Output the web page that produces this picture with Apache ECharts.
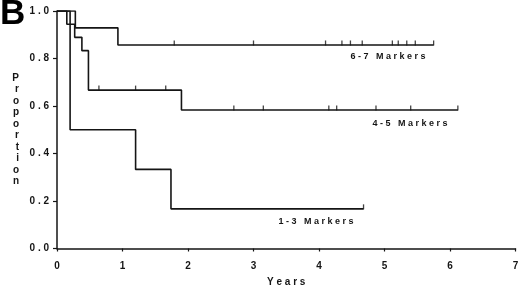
<!DOCTYPE html>
<html>
<head>
<meta charset="utf-8">
<script src="https://cdn.jsdelivr.net/npm/echarts@6/dist/echarts.min.js"></script>
<style>
  html, body { margin: 0; padding: 0; background: #fff; }
  #chart { width: 520px; height: 287px; }
</style>
</head>
<body>
<div id="chart"></div>
<script>
  // survival steps (years, proportion after the drop)
  const years13 = [0, 0.2, 1.2, 1.74, 4.68]
  const prop13 = [1, 0.5, 0.333, 0.167, 0.167]
  const years45 = [0, 0.15, 0.27, 0.38, 0.48, 1.9, 6.12]
  const prop45 = [1, 0.944, 0.889, 0.833, 0.667, 0.583, 0.583]
  const years67 = [0, 0.28, 0.93, 5.75]
  const prop67 = [1, 0.929, 0.857, 0.857]
  // censored follow-up times (tick marks)
  const censored13 = [4.68]
  const censored45 = [0.64, 1.2, 1.66, 2.7, 3.15, 4.15, 4.27, 4.87, 5.4, 6.12]
  const censored67 = [1.79, 3.0, 4.1, 4.35, 4.48, 4.66, 5.12, 5.21, 5.34, 5.47, 5.75]
  const groupNames = ['1-3 Markers', '4-5 Markers', '6-7 Markers']

  const ink = '#151515'
  const font = '"Liberation Sans", Arial, sans-serif'
  const spaced = s => String(s).split('').join(' ')

  const pairs = (xs, ys) => xs.map((x, i) => [x, ys[i]])
  // proportion at time t on a step curve
  const survAt = (xs, ys, t) => {
    let v = ys[0]
    for (let i = 0; i < xs.length; i++) if (xs[i] <= t) v = ys[i]
    return v
  }
  const ticks = (times, xs, ys) => times.map(t => [t, survAt(xs, ys, t)])

  const stepLine = (name, xs, ys) => ({
    name: name,
    type: 'line',
    step: 'end',
    data: pairs(xs, ys),
    showSymbol: false,
    lineStyle: { color: ink, width: 1.6 },
    silent: true,
    z: 3
  })
  const censorMarks = (name, times, xs, ys) => ({
    name: name,
    type: 'scatter',
    data: ticks(times, xs, ys),
    symbol: 'rect',
    symbolSize: [1.3, 5],
    symbolOffset: [0, -2],
    itemStyle: { color: ink },
    silent: true,
    z: 4
  })

  let chart = echarts.init(document.getElementById('chart'))
  chart.setOption({
    animation: false,
    backgroundColor: '#fff',
    grid: { left: 57, right: 4.5, top: 11, bottom: 38.5, containLabel: false, outerBoundsMode: 'none' },
    xAxis: {
      type: 'value',
      min: 0,
      max: 7,
      interval: 1,
      name: spaced('Years'),
      nameLocation: 'middle',
      nameGap: 29,
      nameTextStyle: { color: ink, fontFamily: font, fontWeight: 'bold', fontSize: 10 },
      axisLine: { lineStyle: { color: ink, width: 1.5 } },
      axisTick: { length: 3, lineStyle: { color: ink, width: 1.2 } },
      axisLabel: { color: ink, fontFamily: font, fontWeight: 'bold', fontSize: 10, margin: 13 },
      splitLine: { show: false }
    },
    yAxis: {
      type: 'value',
      min: 0,
      max: 1,
      interval: 0.2,
      name: 'Proportion'.split('').join('\n'),
      nameLocation: 'middle',
      nameRotate: 0,
      nameGap: 38,
      nameTextStyle: { color: ink, fontFamily: font, fontWeight: 'bold', fontSize: 10, lineHeight: 11.5 },
      axisLine: { show: true, lineStyle: { color: ink, width: 1.5 } },
      axisTick: { show: true, length: 4, lineStyle: { color: ink, width: 1.2 } },
      axisLabel: {
        color: ink, fontFamily: font, fontWeight: 'bold', fontSize: 10, margin: 8,
        formatter: v => spaced(v.toFixed(1))
      },
      splitLine: { show: false }
    },
    graphic: [
      { type: 'text', left: 0, top: -3, style: { text: 'B', fill: '#000', font: 'bold 35px ' + font } },
      { type: 'text', x: 388, y: 57, style: { text: spaced(groupNames[2]), fill: ink, font: 'bold 9px ' + font, align: 'center', verticalAlign: 'middle' } },
      { type: 'text', x: 410, y: 123.5, style: { text: spaced(groupNames[1]), fill: ink, font: 'bold 9px ' + font, align: 'center', verticalAlign: 'middle' } },
      { type: 'text', x: 316, y: 222, style: { text: spaced(groupNames[0]), fill: ink, font: 'bold 9px ' + font, align: 'center', verticalAlign: 'middle' } }
    ],
    series: [
      stepLine(groupNames[0], years13, prop13),
      stepLine(groupNames[1], years45, prop45),
      stepLine(groupNames[2], years67, prop67),
      censorMarks(groupNames[0], censored13, years13, prop13),
      censorMarks(groupNames[1], censored45, years45, prop45),
      censorMarks(groupNames[2], censored67, years67, prop67)
    ]
  })
</script>
</body>
</html>
